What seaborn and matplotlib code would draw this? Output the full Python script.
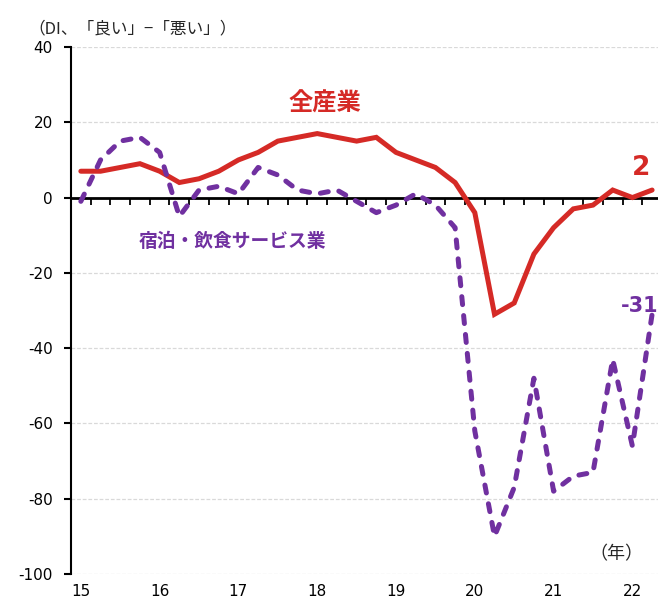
import matplotlib
matplotlib.use("Agg")
import matplotlib.pyplot as plt
import pandas as pd
import seaborn as sns

# Quarterly business conditions DI (Mar 2015 - Jun 2022)
year_labels = ["15", "16", "17", "18", "19", "20", "21", "22"]
all_industries = [7, 7, 8, 9, 7, 4, 5, 7, 10, 12, 15, 16, 17, 16, 15,
                  16, 12, 10, 8, 4, -4, -31, -28, -15, -8, -3, -2, 2, 0, 2]
hotels_food = [-1, 10, 15, 16, 12, -5, 2, 3, 1, 8, 6, 2, 1, 2, -1,
               -4, -2, 1, -2, -8, -62, -90, -77, -48, -78, -74, -73, -43, -66, -31]
quarters = list(range(len(all_industries)))

RED = "#D52A26"
PURPLE = "#7030A0"
CJK = ["Noto Sans CJK JP", "DejaVu Sans"]

sns.set_style("white")
plt.rcParams["font.family"] = ["DejaVu Sans", "Noto Sans CJK JP"]
plt.rcParams["axes.unicode_minus"] = False

df = pd.DataFrame({"q": quarters, "all": all_industries, "hf": hotels_food})

fig = plt.figure(figsize=(6.58, 5.98), dpi=100)
ax = fig.add_axes([71 / 658, 24 / 598, 587 / 658, 527 / 598])

sns.lineplot(data=df, x="q", y="all", color=RED, linewidth=3.6, ax=ax,
             zorder=4, solid_joinstyle="miter")
sns.lineplot(data=df, x="q", y="hf", color=PURPLE, linewidth=3.6, ax=ax,
             linestyle=(0, (1.6, 2.2)), dash_capstyle="round", zorder=5)

ax.set_xlim(-0.5, 29.3)
ax.set_ylim(-100, 40)
ax.set_xlabel("")
ax.set_ylabel("")

# y axis
ax.set_yticks(range(-100, 41, 20))
ax.tick_params(axis="y", left=True, length=5, width=1.5, color="black",
               direction="out", pad=8, labelsize=11, labelcolor="black")
ax.yaxis.grid(True, color="#D9D9D9", linestyle=(0, (3, 1.5)), linewidth=0.9)
ax.xaxis.grid(False)
ax.set_axisbelow(True)

# x labels at the bottom, one per year
ax.set_xticks(quarters[::4])
ax.set_xticklabels(year_labels)
ax.tick_params(axis="x", bottom=True, length=0, pad=7, labelsize=11,
               labelcolor="black")

for side in ["top", "right", "bottom"]:
    ax.spines[side].set_visible(False)
ax.spines["left"].set_color("black")
ax.spines["left"].set_linewidth(1.5)

# zero line with quarter ticks between categories
zero = ax.secondary_xaxis(0, transform=ax.transData)
zero.set_alignment("bottom")
zero.set_zorder(3)
zero.set_xticks([q + 0.5 for q in quarters[:-1]])
zero.tick_params(axis="x", bottom=True, length=5, width=1.3, color="black",
                 direction="out", labelbottom=False)
zero.spines["bottom"].set_color("black")
zero.spines["bottom"].set_linewidth(2)

# series labels
ax.text(12.4, 25, "全産業", color=RED, fontsize=17.5, fontweight="bold",
        ha="center", va="center", family=CJK)
ax.text(7.67, -11.8, "宿泊・飲食サービス業", color=PURPLE, fontsize=13.5,
        fontweight="bold", ha="center", va="center", family=CJK)
ax.annotate(str(all_industries[-1]), xy=(quarters[-1], all_industries[-1]),
            xytext=(-8, 16), textcoords="offset points", ha="center",
            va="center", color=RED, fontsize=19, fontweight="bold",
            annotation_clip=False)
ax.annotate(str(hotels_food[-1]), xy=(quarters[-1], hotels_food[-1]),
            xytext=(-9, 6), textcoords="offset points", ha="center",
            va="center", color=PURPLE, fontsize=15, fontweight="bold",
            annotation_clip=False)
ax.text(0.93, 0.038, "（年）", transform=ax.transAxes, ha="center",
        va="center", fontsize=13, family=CJK)
fig.text(28 / 658, 1 - 29 / 598, "（DI、「良い」−「悪い」）", ha="left",
         va="center", fontsize=12, family=CJK)

fig.savefig("out.png", dpi=100)
